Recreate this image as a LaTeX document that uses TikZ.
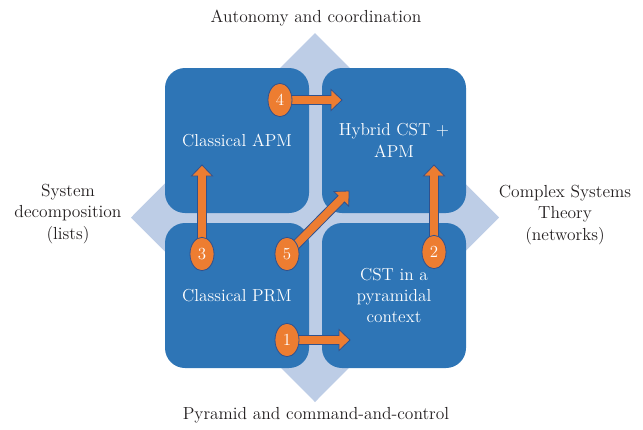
\documentclass[tikz,border=0pt]{standalone}
\usepackage{fontspec}
\usepackage{tikz}
\usetikzlibrary{calc,shapes.geometric}

\definecolor{diamondblue}{RGB}{189,205,230}
\definecolor{quadblue}{RGB}{46,117,182}
\definecolor{stepfill}{RGB}{237,125,49}
\definecolor{stepline}{RGB}{47,82,143}
\definecolor{labelgray}{RGB}{35,31,32}

% block arrow from #1 to #2
\newcommand{\blockarrow}[2]{%
  \coordinate (h) at ($(#2)!8.25pt!(#1)$);
  \draw [blockarrow] ($(#1)!3.4pt!90:(#2)$) -- ($(h)!3.4pt!90:(#2)$) -- ($(h)!7.9pt!90:(#2)$) -- (#2)
    -- ($(h)!7.9pt!-90:(#2)$) -- ($(h)!3.4pt!-90:(#2)$) -- ($(#1)!3.4pt!-90:(#2)$) -- cycle;}

\begin{document}
\begin{tikzpicture}[x=0.75pt,y=-0.75pt,
    quad/.style={fill=quadblue, rounded corners=15pt, minimum width=108pt, minimum height=108.75pt,
      inner sep=0pt, text=white, align=center, font=\fontsize{13}{16}\selectfont},
    num/.style={ellipse, fill=stepfill, draw=stepline, line width=0.6pt, minimum width=18pt,
      minimum height=25pt, inner sep=0pt, text=white, font=\fontsize{12.7}{16}\selectfont},
    side/.style={align=center, text=labelgray, font=\fontsize{13.1}{16}\selectfont},
    blockarrow/.style={fill=stepfill, draw=stepline, line width=0.6pt, line join=miter}]

    \useasboundingbox (0,0) rectangle (643,429);

    \fill [diamondblue] (315,33) -- (499,217.5) -- (315,402) -- (131,217.5) -- cycle;

    \node [quad] (apm) at (237,140.5) {Classical APM};
    \node [quad] (hyb) at (394,140.5) {Hybrid CST +\\APM};
    \node [quad] (prm) at (237,295.5) {Classical PRM};
    \node [quad] (cst) at (394,295.5) {CST in a\\pyramidal\\context};

    \node [side] (top) at (316,18) {Autonomy and coordination};
    \node [side] (bot) at (316,415) {Pyramid and command-and-control};
    \node [side] (lft) at (68,214) {System\\decomposition\\(lists)};
    \node [side] (rgt) at (565,215) {Complex Systems\\Theory\\(networks)};

    \coordinate (c1) at (287,340);
    \coordinate (c2) at (434,252);
    \coordinate (c3) at (202,254);
    \coordinate (c4) at (280,100);
    \coordinate (c5) at (287,254);

    \coordinate (t1) at (350,340);
    \coordinate (t2) at (434,165);
    \coordinate (t3) at (202,165);
    \coordinate (t4) at (342,100);
    \coordinate (t5) at (349,191);

    \foreach \k in {1,...,5}
        \blockarrow{c\k}{t\k};
    \foreach \k in {1,...,5}
        \node [num] (n\k) at (c\k) {\k};
\end{tikzpicture}
\end{document}
